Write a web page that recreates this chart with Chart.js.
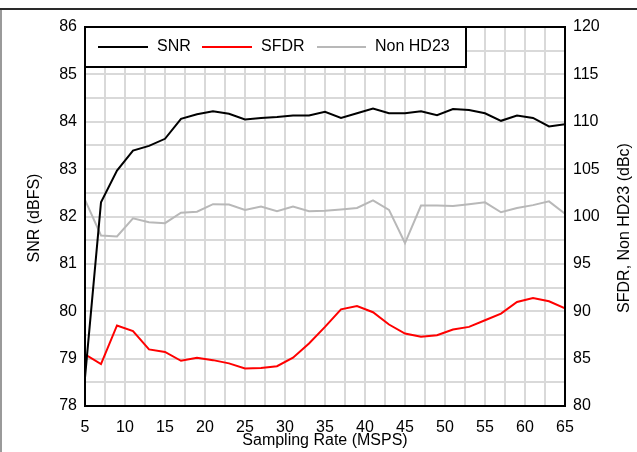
<!DOCTYPE html>
<html>
<head>
<meta charset="utf-8">
<script src="https://cdn.jsdelivr.net/npm/chart.js@4"></script>
<style>
  html, body { margin: 0; padding: 0; background: #fff; }
  #wrap { position: relative; width: 637px; height: 452px; }
  #topline { position: absolute; left: 0; top: 8px; width: 637px; height: 2px; background: #2a2a2a; }
  #leftline { position: absolute; left: 0; top: 10px; width: 2px; height: 442px; background: #9a9a9a; }
  canvas { position: absolute; left: 0; top: 0; }
</style>
</head>
<body>
<div id="wrap">
  <canvas id="c" width="637" height="452"></canvas>
  <div id="topline"></div>
  <div id="leftline"></div>
</div>
<script>
const samplingRates = [5,7,9,11,13,15,17,19,21,23,25,27,29,31,33,35,37,39,41,43,45,47,49,51,53,55,57,59,61,63,65];
const snr = [78.6,82.3,82.97,83.39,83.49,83.64,84.06,84.16,84.22,84.17,84.05,84.08,84.1,84.13,84.13,84.21,84.08,84.18,84.28,84.18,84.18,84.22,84.14,84.27,84.25,84.18,84.02,84.13,84.08,83.9,83.95];
const sfdr = [85.44,84.42,88.5,87.9,85.97,85.7,84.77,85.1,84.84,84.5,83.97,84.0,84.2,85.1,86.6,88.35,90.2,90.56,89.9,88.6,87.65,87.3,87.47,88.07,88.35,89.05,89.75,90.98,91.4,91.05,90.3];
const nonHd23 = [101.75,98.0,97.9,99.8,99.4,99.3,100.4,100.5,101.3,101.26,100.7,101.05,100.56,101.05,100.56,100.6,100.75,100.9,101.7,100.7,97.2,101.16,101.16,101.1,101.3,101.5,100.45,100.9,101.2,101.6,100.3];
const seriesNames = ['SNR', 'SFDR', 'Non HD23'];
const xTitle = 'Sampling Rate (MSPS)';
const yLeftTitle = 'SNR (dBFS)';
const yRightTitle = 'SFDR, Non HD23 (dBc)';

const FONT = '"Liberation Sans", Arial, sans-serif';
const toPts = (arr) => samplingRates.map((x, i) => ({ x: x, y: arr[i] }));

const decor = {
  id: 'decor',
  afterDatasetsDraw(chart) {
    const ctx = chart.ctx;
    const a = chart.chartArea;
    ctx.save();
    // legend box
    const lx0 = a.left, ly0 = a.top, lx1 = 466, ly1 = 67;
    ctx.fillStyle = '#fff';
    ctx.fillRect(lx0, ly0, lx1 - lx0, ly1 - ly0);
    ctx.strokeStyle = '#000';
    ctx.lineWidth = 2;
    ctx.strokeRect(lx0, ly0, lx1 - lx0, ly1 - ly0);
    const items = [
      { name: seriesNames[0], color: chart.data.datasets[0].borderColor, x1: 98, x2: 148, tx: 157 },
      { name: seriesNames[1], color: chart.data.datasets[1].borderColor, x1: 202, x2: 252, tx: 261 },
      { name: seriesNames[2], color: chart.data.datasets[2].borderColor, x1: 317, x2: 366, tx: 375 }
    ];
    const ly = 47;
    ctx.font = '16px ' + FONT;
    ctx.textBaseline = 'middle';
    ctx.textAlign = 'left';
    items.forEach(it => {
      ctx.strokeStyle = it.color;
      ctx.lineWidth = 2;
      ctx.beginPath();
      ctx.moveTo(it.x1, ly);
      ctx.lineTo(it.x2, ly);
      ctx.stroke();
      ctx.fillStyle = '#000';
      ctx.fillText(it.name, it.tx, ly);
    });
    ctx.restore();
  },
  afterDraw(chart) {
    const ctx = chart.ctx;
    const a = chart.chartArea;
    ctx.save();
    ctx.strokeStyle = '#000';
    ctx.lineWidth = 2;
    ctx.strokeRect(a.left, a.top, a.right - a.left, a.bottom - a.top);
    ctx.fillStyle = '#000';
    ctx.font = '16px ' + FONT;
    ctx.textAlign = 'center';
    ctx.textBaseline = 'middle';
    ctx.fillText(xTitle, (a.left + a.right) / 2, 441);
    ctx.save();
    ctx.translate(35, 218);
    ctx.rotate(-Math.PI / 2);
    ctx.fillText(yLeftTitle, 0, 0);
    ctx.restore();
    ctx.save();
    ctx.translate(625, 228);
    ctx.rotate(-Math.PI / 2);
    ctx.fillText(yRightTitle, 0, 0);
    ctx.restore();
    ctx.restore();
  }
};

new Chart(document.getElementById('c'), {
  type: 'line',
  data: {
    datasets: [
      { label: seriesNames[0], data: toPts(snr), borderColor: '#000000', borderWidth: 2, pointRadius: 0, tension: 0, yAxisID: 'y' },
      { label: seriesNames[1], data: toPts(sfdr), borderColor: '#ff0000', borderWidth: 2, pointRadius: 0, tension: 0, yAxisID: 'y2' },
      { label: seriesNames[2], data: toPts(nonHd23), borderColor: '#b8b8b8', borderWidth: 2, pointRadius: 0, tension: 0, yAxisID: 'y2' }
    ]
  },
  options: {
    responsive: false,
    animation: false,
    devicePixelRatio: 1,
    layout: { padding: { top: 27, left: 0, right: 0, bottom: 0 } },
    plugins: { legend: { display: false }, tooltip: { enabled: false } },
    scales: {
      x: {
        type: 'linear', min: 5, max: 65,
        afterFit(s) { s.height = 46; },
        grid: { color: '#d9d9d9', lineWidth: 2, drawTicks: false },
        border: { display: false },
        ticks: {
          stepSize: 2.5, autoSkip: false, maxRotation: 0, padding: 12,
          color: '#000', font: { family: FONT, size: 16 },
          callback: (v) => (v % 5 === 0 ? String(v) : '')
        }
      },
      y: {
        type: 'linear', position: 'left', min: 78, max: 86,
        afterFit(s) { s.width = 85; },
        grid: { color: '#d9d9d9', lineWidth: 2, drawTicks: false },
        border: { display: false },
        ticks: {
          stepSize: 0.5, autoSkip: false, padding: 8,
          color: '#000', font: { family: FONT, size: 16 },
          callback: (v) => (Number.isInteger(v) ? String(v) : '')
        }
      },
      y2: {
        type: 'linear', position: 'right', min: 80, max: 120,
        afterFit(s) { s.width = 72; },
        grid: { display: false, drawTicks: false },
        border: { display: false },
        ticks: {
          stepSize: 5, padding: 8,
          color: '#000', font: { family: FONT, size: 16 }
        }
      }
    }
  },
  plugins: [decor]
});
</script>
</body>
</html>
